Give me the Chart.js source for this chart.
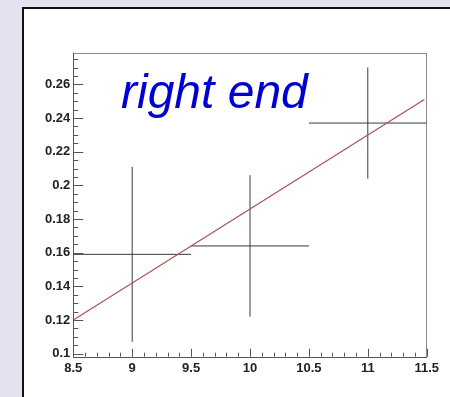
<!DOCTYPE html>
<html>
<head>
<meta charset="utf-8">
<script src="https://cdn.jsdelivr.net/npm/chart.js@4/dist/chart.umd.min.js"></script>
<style>
  html, body { margin: 0; padding: 0; width: 450px; height: 397px; overflow: hidden; background: #e6e1ee; }
  #pad { position: absolute; left: 22px; top: 7px; width: 600px; height: 600px; background: #fff; border: 2px solid #111; }
  #c { position: absolute; left: 0; top: 0; }
</style>
</head>
<body>
<div id="pad"></div>
<canvas id="c" width="450" height="397"></canvas>
<script>
// Measured points with symmetric errors
const xVals = [9, 10, 11];
const xErr  = [0.5, 0.5, 0.5];
const yVals = [0.159, 0.164, 0.237];
const yErr  = [0.052, 0.042, 0.033];

// Straight-line fit over the range
const fitX = [8.5, 11.48];
const fitY = [0.120, 0.251];

// Axis ranges and labelled ticks
const xRange = [8.5, 11.5];
const yRange = [0.0982, 0.2788];
const xTicks = [8.5, 9, 9.5, 10, 10.5, 11, 11.5];
const yTicks = [0.1, 0.12, 0.14, 0.16, 0.18, 0.2, 0.22, 0.24, 0.26];

const title = 'right end';

// Error bar segments, separated by gaps
const hSegs = [], vSegs = [];
xVals.forEach((x, i) => {
  hSegs.push({x: x - xErr[i], y: yVals[i]}, {x: x + xErr[i], y: yVals[i]}, {x: x, y: null});
  vSegs.push({x: x, y: yVals[i] - yErr[i]}, {x: x, y: yVals[i] + yErr[i]}, {x: x, y: null});
});

const frame = {
  id: 'frame',
  beforeDatasetsDraw(chart) {
    const {ctx, chartArea: a} = chart;
    ctx.save();
    ctx.strokeStyle = '#8a8a8a';
    ctx.lineWidth = 1;
    ctx.strokeRect(Math.round(a.left) + 0.5, Math.round(a.top) + 0.5,
                   Math.round(a.right - a.left), Math.round(a.bottom - a.top));
    ctx.restore();
  },
  afterDatasetsDraw(chart) {
    const {ctx, chartArea: a, scales: {x, y}} = chart;
    ctx.save();
    ctx.strokeStyle = '#555';
    ctx.lineWidth = 1;
    // axis lines
    ctx.beginPath();
    ctx.moveTo(Math.round(a.left) + 0.5, a.top);
    ctx.lineTo(Math.round(a.left) + 0.5, Math.round(a.bottom) + 0.5);
    ctx.lineTo(a.right, Math.round(a.bottom) + 0.5);
    ctx.stroke();
    // x ticks (inside)
    ctx.beginPath();
    for (let k = 0; ; k++) {
      const v = xRange[0] + k * 0.1;
      if (v > xRange[1] + 1e-9) break;
      const px = Math.round(x.getPixelForValue(v)) + 0.5;
      const len = (k % 5 === 0) ? 8 : 4;
      ctx.moveTo(px, a.bottom);
      ctx.lineTo(px, a.bottom - len);
    }
    // y ticks (inside)
    for (let k = 0; ; k++) {
      const v = 0.1 + k * 0.005;
      if (v > yRange[1]) break;
      const py = Math.round(y.getPixelForValue(v)) + 0.5;
      const len = (k % 4 === 0) ? 10 : 5;
      ctx.moveTo(a.left, py);
      ctx.lineTo(a.left + len, py);
    }
    ctx.stroke();
    // title text
    ctx.fillStyle = '#0000d2';
    ctx.font = 'italic 48px "Liberation Sans", Arial, sans-serif';
    ctx.textBaseline = 'alphabetic';
    ctx.fillText(title, 121, 108);
    ctx.restore();
  }
};

const tickFont = {family: '"Liberation Sans", Arial, sans-serif', size: 13, weight: 'bold'};

new Chart(document.getElementById('c'), {
  type: 'line',
  data: {
    datasets: [
      {data: fitX.map((v, i) => ({x: v, y: fitY[i]})), borderColor: '#a85555', borderWidth: 1.3, pointRadius: 0},
      {data: hSegs, borderColor: '#3a3a3a', borderWidth: 1, pointRadius: 0, spanGaps: false},
      {data: vSegs, borderColor: '#3a3a3a', borderWidth: 1, pointRadius: 0, spanGaps: false}
    ]
  },
  options: {
    responsive: false,
    animation: false,
    devicePixelRatio: 1,
    layout: {padding: {left: 0, top: 52.7, right: 23.3, bottom: 0}},
    plugins: {legend: {display: false}, tooltip: {enabled: false}},
    scales: {
      x: {
        type: 'linear', min: xRange[0], max: xRange[1],
        grid: {display: false, drawTicks: false},
        border: {display: false},
        afterBuildTicks: s => { s.ticks = xTicks.map(v => ({value: v})); },
        afterFit: s => { s.height = 40.3; },
        ticks: {autoSkip: false, maxRotation: 0, padding: 4, color: '#222', font: tickFont,
                callback: v => String(+v.toFixed(2))}
      },
      y: {
        type: 'linear', min: yRange[0], max: yRange[1],
        grid: {display: false, drawTicks: false},
        border: {display: false},
        afterBuildTicks: s => { s.ticks = yTicks.map(v => ({value: v})); },
        afterFit: s => { s.width = 73.3; },
        ticks: {autoSkip: false, padding: 3, color: '#222', font: tickFont,
                callback: v => String(+v.toFixed(3))}
      }
    }
  },
  plugins: [frame]
});
</script>
</body>
</html>
